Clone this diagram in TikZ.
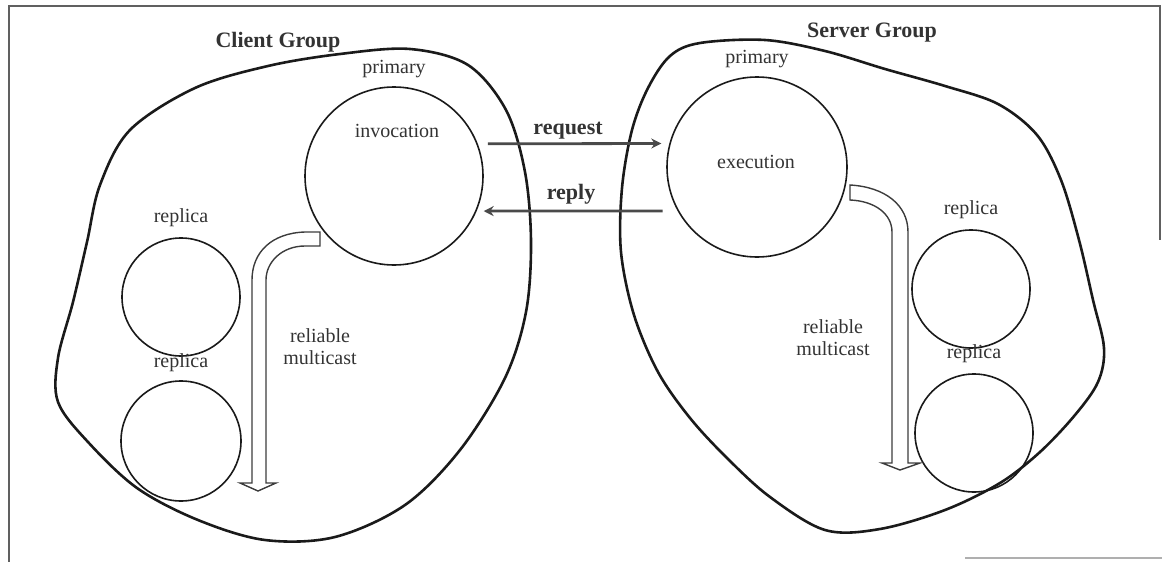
\documentclass[tikz,border=0pt]{standalone}
\usepackage{fontspec}
\setmainfont{Liberation Serif}
\usetikzlibrary{positioning, arrows.meta, calc}
\definecolor{grpInk}{HTML}{1A1A1A}
\definecolor{grpText}{HTML}{333333}
\definecolor{grpFrame}{HTML}{606060}
\definecolor{grpMsg}{HTML}{4A4A4A}

\begin{document}
\begin{tikzpicture}[
    x=0.5pt, y=-0.5pt,
    blob/.style={draw=grpInk, line width=1.3pt},
    proc/.style={circle, draw=grpInk, line width=0.8pt, inner sep=0pt},
    lbl/.style={font=\fontsize{10}{11}\selectfont, text=grpText, inner sep=0pt},
    ttl/.style={font=\fontsize{11}{13}\selectfont\bfseries, text=grpText, inner sep=0pt},
    msg/.style={draw=grpMsg, line width=1.4pt, -{Stealth[length=5pt,width=5pt]}},
    mcast/.style={draw=grpInk!85, line width=0.7pt, line join=miter},
    frame/.style={draw=grpFrame, line width=1pt}
]
\useasboundingbox (0,0) rectangle (1162,562);

% === Frame ===
\draw[frame] (9,562) -- (9,6) -- (1160,6) -- (1160,240);
\draw[frame, draw=grpFrame!50] (965,558) -- (1162,558);

% === Group outlines ===
\draw[blob] plot[smooth cycle, tension=0.55] coordinates {
    (340,54) (410,49) (468,65) (506,110) (525,172) (531,242) (526,312)
    (505,378) (460,450) (405,505) (335,537) (265,540) (198,520) (137,488)
    (88,442) (58,402) (58,358) (73,302) (87,242) (100,185) (130,130)
    (195,88) (268,66)};
\draw[blob] plot[smooth cycle, tension=0.55] coordinates {
    (700,43) (765,40) (825,51) (885,69) (945,86) (998,104) (1037,135)
    (1061,180) (1079,240) (1093,300) (1104,348) (1098,382) (1075,415)
    (1040,452) (1000,483) (945,510) (880,529) (825,530) (770,497)
    (727,458) (690,418) (658,372) (634,315) (621,252) (622,188) (632,130)
    (648,88) (670,56)};

\node[ttl] (cgrp) at (278,42) {Client Group};
\node[ttl] (sgrp) at (872,33) {Server Group};

% === Client group ===
\node[proc, minimum size=89pt] (cinv) at (394,176) {};
\node[proc, minimum size=59pt] (crep1) at (181,297) {};
\node[proc, minimum size=60pt] (crep2) at (181,441) {};
\node[lbl, above=4pt of cinv] (cprim) {primary};
\node[lbl] (cinvtxt) at ($(cinv)+(3,-45)$) {invocation};
\node[lbl, above=5pt of crep1] (crep1txt) {replica};
\node[lbl, above=4pt of crep2] (crep2txt) {replica};

% === Server group ===
\node[proc, minimum size=90pt] (sexe) at (757,167) {};
\node[proc, minimum size=59pt] (srep1) at (971,289) {};
\node[proc, minimum size=59pt] (srep2) at (974,433) {};
\node[lbl, above=4pt of sexe] (sprim) {primary};
\node[lbl] (sexetxt) at ($(sexe)+(-1,-5)$) {execution};
\node[lbl, above=5pt of srep1] (srep1txt) {replica};
\node[lbl, above=5pt of srep2] (srep2txt) {replica};

% === Request / reply ===
\draw[msg, shorten <=5pt, shorten >=4pt] (cinv.21) -- (sexe.165);
\draw[msg, shorten <=7.5pt, shorten >=3.5pt] (sexe.209) -- (cinv.-23);
\node[ttl] (reqtxt) at (568,131) {request};
\node[ttl] (reptxt) at (571,194) {reply};

% === Reliable multicast ===
\draw[mcast] (320,232) -- (305,232) .. controls (272,233) and (252,252) .. (252,280)
    -- (252,483) -- (240,483) -- (258,491) -- (276,483) -- (266,483) -- (266,280)
    .. controls (266,262) and (282,246) .. (305,246) -- (320,246) -- cycle;
\draw[mcast] (850,185) .. controls (885,187) and (908,205) .. (908,232)
    -- (908,463) -- (920,463) -- (900,470) -- (882,463) -- (892,463) -- (892,232)
    .. controls (892,214) and (875,201) .. (850,200) -- cycle;
\node[lbl, align=center] (cmc) at (320,347) {reliable\\multicast};
\node[lbl, align=center] (smc) at (833,338) {reliable\\multicast};

\end{tikzpicture}
\end{document}
